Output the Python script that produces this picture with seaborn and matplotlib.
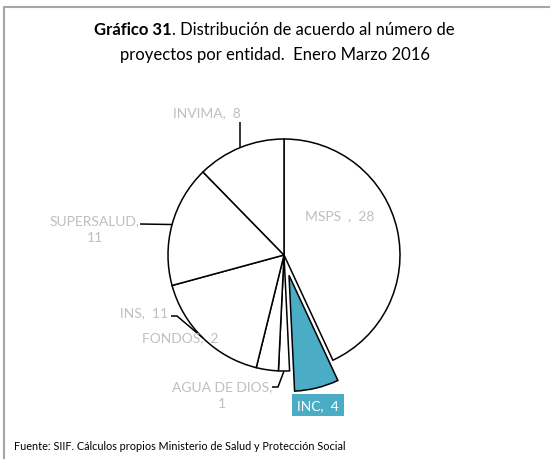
import matplotlib
matplotlib.use('Agg')
import matplotlib.pyplot as plt
from matplotlib.lines import Line2D
import seaborn as sns
import numpy as np

# datos: número de proyectos por entidad, enero-marzo 2016
entidades = ['MSPS', 'INC', 'AGUA DE DIOS', 'FONDOS', 'INS', 'SUPERSALUD', 'INVIMA']
proyectos = [28, 4, 1, 2, 11, 11, 8]
etiquetas = ['MSPS  ,  28', 'INC,  4', 'AGUA DE DIOS,\n1', 'FONDOS,  2',
             'INS,  11', 'SUPERSALUD,\n11', 'INVIMA,  8']

sns.set_theme(style='white')
plt.rcParams['font.family'] = ['Lato', 'DejaVu Sans']

W, H = 550, 460
CX, CY, R = 284, 256, 116  # pie centre / radius in pixels


def to_data(px, py):
    return ((px - CX) / R, (CY - py) / R)


fig = plt.figure(figsize=(W / 100, H / 100), dpi=100)
ax = fig.add_axes([0, 0, 1, 1])

colores = ['white' if e != 'INC' else '#4BACC6' for e in entidades]
explode = [0.18 if e == 'INC' else 0 for e in entidades]
wedges, _ = ax.pie(proyectos, startangle=90, counterclock=False, colors=colores,
                   explode=explode, radius=1, center=(0, 0), frame=True,
                   wedgeprops=dict(edgecolor='black', linewidth=1.1))
ax.set_xlim(-CX / R, (W - CX) / R)
ax.set_ylim(-(H - CY) / R, CY / R)
ax.axis('off')


def borde(w):
    ang = np.deg2rad((w.theta1 + w.theta2) / 2)
    return (w.center[0] + w.r * np.cos(ang), w.center[1] + w.r * np.sin(ang))


# label layout (pixel positions in the reference)
pos_texto = {
    'MSPS': ((340, 216), 'center'),
    'INC': ((318, 406), 'center'),
    'AGUA DE DIOS': ((222, 396), 'center'),
    'FONDOS': ((180, 338), 'center'),
    'INS': ((168, 313), 'right'),
    'SUPERSALUD': ((95, 230), 'center'),
    'INVIMA': ((207, 113), 'center'),
}
codos = {
    'INVIMA': [(240, 123)],
    'SUPERSALUD': [(140, 225)],
    'INS': [(177, 317), (171, 317)],
    'AGUA DE DIOS': [(278, 388), (272, 388)],
}

gris = '#BFBFBF'
for w, e, txt in zip(wedges, entidades, etiquetas):
    (px, py), ha = pos_texto[e]
    x, y = to_data(px, py)
    if e == 'INC':
        ax.text(x, y, txt, ha=ha, va='center', fontsize=10, color='white',
                bbox=dict(boxstyle='square,pad=0.35', facecolor='#4BACC6', edgecolor='none'))
    else:
        ax.text(x, y, txt, ha=ha, va='center', fontsize=10, color=gris,
                linespacing=1.5)
    if e in codos:
        pts = [borde(w)]
        if e == 'INVIMA':
            pts.append((pts[0][0], to_data(*codos[e][0])[1]))
        else:
            pts += [to_data(*p) for p in codos[e]]
        xs, ys = zip(*pts)
        ax.plot(xs, ys, color='black', lw=1.1, solid_capstyle='butt')

# title with bold prefix
renderer = fig.canvas.get_renderer()
parte1 = fig.text(0, 0, 'Gráfico 31', fontsize=12, fontweight='bold', color='black')
parte2 = fig.text(0, 0, '. Distribución de acuerdo al número de', fontsize=12, color='black')
w1 = parte1.get_window_extent(renderer).width
w2 = parte2.get_window_extent(renderer).width
x0 = (274 - (w1 + w2) / 2) / W
y1 = 1 - 30 / H
parte1.set_position((x0, y1))
parte1.set_va('center')
parte2.set_position((x0 + w1 / W, y1))
parte2.set_va('center')
fig.text(275 / W, 1 - 55 / H, 'proyectos por entidad.  Enero Marzo 2016',
         fontsize=12, ha='center', va='center', color='black')

fig.text(14 / W, 1 - 447 / H,
         'Fuente: SIIF. Cálculos propios Ministerio de Salud y Protección Social',
         fontsize=7.8, ha='left', va='center', color='black')

# chart frame (top and left edges only)
fig.add_artist(Line2D([4 / W, 1], [1 - 8 / H, 1 - 8 / H], color='#A6A6A6', lw=1.5))
fig.add_artist(Line2D([4 / W, 4 / W], [0, 1 - 8 / H], color='#A6A6A6', lw=1.5))

fig.savefig('out.png', dpi=100)
